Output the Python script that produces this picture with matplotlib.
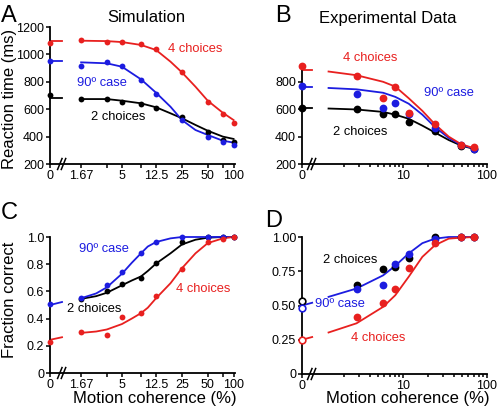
import matplotlib
matplotlib.use("Agg")
import matplotlib.pyplot as plt
from matplotlib.lines import Line2D
from matplotlib.ticker import FixedLocator, FixedFormatter, NullFormatter

plt.rcParams['font.family'] = ['Liberation Sans', 'DejaVu Sans']

RED = '#e8201f'
BLUE = '#1c1ce0'
BLACK = '#000000'

# ---------------- Panel A: Simulation, reaction time ----------------
a_coh = [0, 1.67, 3.33, 5, 8.33, 12.5, 25, 50, 75, 100]
a_rt_4 = [1083, 1102, 1093, 1088, 1076, 1039, 868, 656, 563, 502]
a_rt_90 = [951, 912, 944, 912, 810, 712, 522, 400, 358, 339]
a_rt_2 = [702, 678, 678, 651, 641, 607, 546, 437, 376, 363]
a_zero_fit_4 = [1098, 1098]
a_zero_fit_90 = [949, 949]
a_zero_fit_2 = [680, 680]
a_fit_x = [1.67, 3.33, 5, 8.33, 12.5, 18.4, 25, 36, 50, 75, 100]
a_fit_4 = [1100, 1097, 1090, 1069, 1032, 947, 869, 764, 662, 574, 521]
a_fit_90 = [942, 935, 910, 818, 720, 618, 521, 448, 412, 370, 356]
a_fit_2 = [674, 674, 662, 643, 614, 570, 534, 485, 443, 400, 383]
a_xticks = [0, 1.67, 5, 12.5, 25, 50, 100]
a_xticklabels = ['0', '1.67', '5', '12.5', '25', '50', '100']
a_yticks = [200, 400, 600, 800, 1000, 1200]

# ---------------- Panel B: Experimental data, reaction time ----------------
b_coh = [0, 2.8, 5.8, 8.1, 11.7, 24, 49, 70]
b_rt_4 = [918, 844, 685, 763, 575, 489, 342, 322]
b_rt_90 = [771, 709, 611, 643, 562, 465, 337, 313]
b_rt_2 = [611, 599, 562, 562, 506, 440, 330, 313]
b_zero_fit_4 = [886, 886]
b_zero_fit_90 = [763, 763]
b_zero_fit_2 = [611, 611]
b_fit_x = [1.3, 2.8, 5.8, 8.1, 11.7, 17, 24, 35, 49, 70]
b_fit_4 = [875, 848, 800, 765, 680, 588, 490, 400, 345, 315]
b_fit_90 = [755, 745, 720, 690, 640, 560, 470, 390, 340, 312]
b_fit_2 = [605, 598, 580, 560, 530, 480, 430, 375, 335, 310]
b_xticks = [0, 10, 100]
b_xticklabels = ['0', '10', '100']
b_yticks = [200, 400, 600, 800]

# ---------------- Panel C: Simulation, accuracy ----------------
c_coh = a_coh
c_pc_4 = [0.227, 0.298, 0.278, 0.41, 0.439, 0.568, 0.768, 0.963, 0.988, 1.0]
c_pc_90 = [0.505, 0.549, 0.644, 0.744, 0.885, 0.963, 1.0, 1.0, 1.0, 1.0]
c_coh_2 = [1.67, 3.33, 5, 8.33, 12.5, 25, 50, 75, 100]
c_pc_2 = [0.544, 0.605, 0.651, 0.70, 0.812, 0.963, 1.0, 1.0, 1.0]
c_zero_fit_4 = [0.244, 0.263]
c_zero_fit_90 = [0.50, 0.522]
c_fit_x = [1.67, 2.5, 3.33, 5, 6.5, 8.33, 10, 12.5, 18.4, 25, 36, 50, 75, 100]
c_fit_4 = [0.295, 0.305, 0.32, 0.36, 0.40, 0.44, 0.48, 0.55, 0.66, 0.77, 0.88, 0.955, 0.99, 1.0]
c_fit_90 = [0.55, 0.585, 0.63, 0.73, 0.81, 0.88, 0.93, 0.963, 0.99, 1.0, 1.0, 1.0, 1.0, 1.0]
c_fit_2 = [0.545, 0.565, 0.59, 0.645, 0.68, 0.71, 0.75, 0.805, 0.88, 0.945, 0.98, 0.995, 1.0, 1.0]
c_yticks = [0, 0.2, 0.4, 0.6, 0.8, 1.0]
c_yticklabels = ['0', '0.2', '0.4', '0.6', '0.8', '1.0']

# ---------------- Panel D: Experimental data, accuracy ----------------
d_coh = b_coh
d_pc_4 = [0.248, 0.417, 0.515, 0.617, 0.777, 0.959, 1.0, 1.0]
d_pc_90 = [0.483, 0.617, 0.648, 0.806, 0.879, 0.988, 1.0, 1.0]
d_pc_2 = [0.534, 0.648, 0.769, 0.782, 0.85, 1.0, 1.0, 1.0]
d_zero_fit_4 = [0.25, 0.27]
d_zero_fit_90 = [0.50, 0.52]
d_fit_x = [1.3, 2.8, 5.8, 8.1, 11.7, 17, 24, 35, 49, 70]
d_fit_4 = [0.303, 0.37, 0.49, 0.575, 0.71, 0.855, 0.94, 0.988, 0.995, 1.0]
d_fit_90 = [0.563, 0.624, 0.72, 0.79, 0.88, 0.955, 0.988, 1.0, 1.0, 1.0]
d_yticks = [0, 0.25, 0.5, 0.75, 1.0]
d_yticklabels = ['0', '0.25', '0.50', '0.75', '1.00']

# ---------------- layout ----------------
W, H = 498, 412
fig = plt.figure(figsize=(W / 100, H / 100), dpi=100)

def px_axes(l, t, r, b):
    return fig.add_axes([l / W, 1 - b / H, (r - l) / W, (b - t) / H])

# x position for zero coherence (left edge) and axis break position
A_ZERO, A_BREAK, A_XMAX = 0.724, 1.0, 104.0
B_ZERO, B_BREAK, B_XMAX = 0.628, 0.83, 100.0

def zx(xs, zero):
    return [zero if v == 0 else v for v in xs]

def style(ax, zero, xmax):
    ax.set_xscale('log')
    ax.set_xlim(zero, xmax)
    for s in ['top', 'right']:
        ax.spines[s].set_visible(False)
    for s in ['left', 'bottom']:
        ax.spines[s].set_linewidth(1.3)
    ax.tick_params(axis='both', which='major', direction='out', length=3,
                   width=1.1, labelsize=9, pad=1.2)
    ax.tick_params(axis='both', which='minor', direction='out', length=3,
                   width=1.1)

def brk(ax, fx):
    for dx in (-0.012, 0.008):
        ax.add_line(Line2D([fx + dx - 0.012, fx + dx + 0.012], [-0.04, 0.04],
                           transform=ax.transAxes, color='black', lw=1.1,
                           clip_on=False))

ms_small = 4.2
ms_big = 5.6
lw = 1.3

# ---- A ----
axA = px_axes(50, 27, 235, 164)
style(axA, A_ZERO, A_XMAX)
axA.set_ylim(200, 1200)
axA.set_yticks(a_yticks)
axA.xaxis.set_major_locator(FixedLocator(zx(a_xticks, A_ZERO)))
axA.xaxis.set_major_formatter(FixedFormatter(a_xticklabels))
axA.xaxis.set_minor_locator(FixedLocator([v for v in a_coh if v not in a_xticks]))
axA.xaxis.set_minor_formatter(NullFormatter())
for fit, zf, ys, c in [(a_fit_2, a_zero_fit_2, a_rt_2, BLACK),
                       (a_fit_90, a_zero_fit_90, a_rt_90, BLUE),
                       (a_fit_4, a_zero_fit_4, a_rt_4, RED)]:
    axA.plot(a_fit_x, fit, color=c, lw=lw, zorder=2)
    axA.plot([A_ZERO, A_BREAK], zf, color=c, lw=lw, zorder=2, clip_on=False)
    axA.plot(zx(a_coh, A_ZERO), ys, 'o', color=c, ms=ms_small, mec='none',
             zorder=3, clip_on=False)
brk(axA, 0.065)

# ---- B ----
axB = px_axes(302, 27, 487, 164)
style(axB, B_ZERO, B_XMAX)
axB.set_ylim(200, 1200)
axB.spines['left'].set_bounds(200, 925)
axB.set_yticks(b_yticks)
axB.xaxis.set_major_locator(FixedLocator(zx(b_xticks, B_ZERO)))
axB.xaxis.set_major_formatter(FixedFormatter(b_xticklabels))
axB.xaxis.set_minor_locator(FixedLocator([2, 3, 4, 5, 6, 7, 8, 9, 20, 30, 40, 50, 60, 70, 80, 90]))
axB.xaxis.set_minor_formatter(NullFormatter())
axB.tick_params(axis='x', which='minor', length=2)
for fit, zf, ys, c in [(b_fit_2, b_zero_fit_2, b_rt_2, BLACK),
                       (b_fit_90, b_zero_fit_90, b_rt_90, BLUE),
                       (b_fit_4, b_zero_fit_4, b_rt_4, RED)]:
    axB.plot(b_fit_x, fit, color=c, lw=lw, zorder=2)
    axB.plot([B_ZERO, B_BREAK], zf, color=c, lw=lw, zorder=2, clip_on=False)
    axB.plot(zx(b_coh, B_ZERO), ys, 'o', color=c, ms=ms_big, mec='none',
             zorder=3, clip_on=False)
brk(axB, 0.054)

# ---- C ----
axC = px_axes(50, 237, 235, 373)
style(axC, A_ZERO, A_XMAX)
axC.set_ylim(0, 1.0)
axC.set_yticks(c_yticks)
axC.set_yticklabels(c_yticklabels)
axC.xaxis.set_major_locator(FixedLocator(zx(a_xticks, A_ZERO)))
axC.xaxis.set_major_formatter(FixedFormatter(a_xticklabels))
axC.xaxis.set_minor_locator(FixedLocator([v for v in a_coh if v not in a_xticks]))
axC.xaxis.set_minor_formatter(NullFormatter())
axC.plot(c_fit_x, c_fit_2, color=BLACK, lw=lw, zorder=2, clip_on=False)
axC.plot(c_coh_2, c_pc_2, 'o', color=BLACK, ms=ms_small, mec='none', zorder=3, clip_on=False)
for fit, zf, ys, c in [(c_fit_90, c_zero_fit_90, c_pc_90, BLUE),
                       (c_fit_4, c_zero_fit_4, c_pc_4, RED)]:
    axC.plot(c_fit_x, fit, color=c, lw=lw, zorder=2, clip_on=False)
    axC.plot([A_ZERO, A_BREAK], zf, color=c, lw=lw, zorder=2, clip_on=False)
    axC.plot(zx(c_coh, A_ZERO), ys, 'o', color=c, ms=ms_small, mec='none',
             zorder=3, clip_on=False)
brk(axC, 0.065)

# ---- D ----
axD = px_axes(302, 237, 487, 374)
style(axD, B_ZERO, B_XMAX)
axD.set_ylim(0, 1.0)
axD.set_yticks(d_yticks)
axD.set_yticklabels(d_yticklabels)
axD.xaxis.set_major_locator(FixedLocator(zx(b_xticks, B_ZERO)))
axD.xaxis.set_major_formatter(FixedFormatter(b_xticklabels))
axD.xaxis.set_minor_locator(FixedLocator([2, 3, 4, 5, 6, 7, 8, 9, 20, 30, 40, 50, 60, 70, 80, 90]))
axD.xaxis.set_minor_formatter(NullFormatter())
axD.tick_params(axis='x', which='minor', length=2)
for fit, zf, c in [(d_fit_90, d_zero_fit_90, BLUE), (d_fit_4, d_zero_fit_4, RED)]:
    axD.plot(d_fit_x, fit, color=c, lw=lw, zorder=2, clip_on=False)
    axD.plot([B_ZERO, B_BREAK], zf, color=c, lw=lw, zorder=2, clip_on=False)
for ys, c in [(d_pc_2, BLACK), (d_pc_90, BLUE), (d_pc_4, RED)]:
    axD.plot(d_coh[1:], ys[1:], 'o', color=c, ms=ms_big, mec='none', zorder=3, clip_on=False)
    axD.plot([B_ZERO], ys[:1], 'o', mfc='white', mec=c, mew=1.2, ms=4.8,
             zorder=4, clip_on=False)
brk(axD, 0.054)

# ---------------- texts ----------------
def ftext(x, y, s, **kw):
    fig.text(x / W, 1 - y / H, s, ha='center', va='center', **kw)

ftext(9, 16, 'A', fontsize=17)
ftext(283, 16, 'B', fontsize=17)
ftext(9, 213, 'C', fontsize=17)
ftext(274, 221, 'D', fontsize=17)
ftext(146, 18, 'Simulation', fontsize=12)
ftext(388, 18, 'Experimental Data', fontsize=12)
ftext(10, 99, 'Reaction time (ms)', fontsize=12, rotation=90)
ftext(10, 300, 'Fraction correct', fontsize=12, rotation=90)
ftext(155, 399, 'Motion coherence (%)', fontsize=12)
ftext(408, 399, 'Motion coherence (%)', fontsize=12)

ftext(195, 49, '4 choices', fontsize=9.3, color=RED)
ftext(102, 83, '90º case', fontsize=9.3, color=BLUE)
ftext(118, 117, '2 choices', fontsize=9.3, color=BLACK)

ftext(370, 58, '4 choices', fontsize=9.3, color=RED)
ftext(449, 93, '90º case', fontsize=9.3, color=BLUE)
ftext(360, 132, '2 choices', fontsize=9.3, color=BLACK)

ftext(104, 249, '90º case', fontsize=9.3, color=BLUE)
ftext(94, 309, '2 choices', fontsize=9.3, color=BLACK)
ftext(203, 289, '4 choices', fontsize=9.3, color=RED)

ftext(350, 260, '2 choices', fontsize=9.3, color=BLACK)
ftext(340, 304, '90º case', fontsize=9.3, color=BLUE)
ftext(378, 338, '4 choices', fontsize=9.3, color=RED)

fig.savefig('out.png', dpi=100)
